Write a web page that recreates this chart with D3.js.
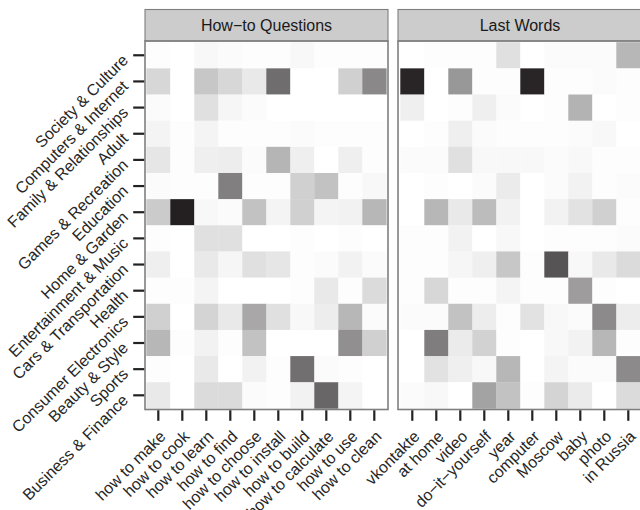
<!DOCTYPE html>
<html>
<head>
<meta charset="utf-8">
<script src="https://cdn.jsdelivr.net/npm/d3@7"></script>
<style>
  body { margin: 0; background: #fff; }
  text { font-family: "Liberation Sans", Arial, sans-serif; }
</style>
</head>
<body>
<svg id="chart" width="640" height="510"></svg>
<script>
// categories down the side (top to bottom)
var categories = ["Society & Culture", "Computers & Internet", "Family & Relationships", "Adult",
    "Games & Recreation", "Education", "Home & Garden", "Entertainment & Music",
    "Cars & Transportation", "Health", "Consumer Electronics", "Beauty & Style",
    "Sports", "Business & Finance"];

var panelTitles = ["How\u2212to Questions", "Last Words"];

var howtoTerms = ["how to make", "how to cook", "how to learn", "how to find", "how to choose",
    "how to install", "how to build", "how to calculate", "how to use", "how to clean"];

var lastTerms = ["vkontakte", "at home", "video", "do\u2212it\u2212yourself", "year",
    "computer", "Moscow", "baby", "photo", "in Russia"];

// shading, one row per category, 0 = white .. 100 = darkest
var howtoValues = [
    [1, 0, 3, 2, 1, 1, 3, 1, 1, 1],
    [18, 0, 25, 18, 10, 65, 0, 0, 21, 53],
    [2, 0, 14, 4, 2, 0, 0, 0, 0, 0],
    [5, 1, 5, 1, 1, 1, 2, 1, 1, 1],
    [11, 1, 7, 8, 2, 33, 7, 0, 7, 1],
    [2, 1, 1, 57, 1, 1, 21, 27, 1, 3],
    [23, 99, 3, 2, 27, 5, 21, 5, 6, 32],
    [1, 0, 14, 14, 0, 0, 1, 0, 1, 0],
    [7, 0, 10, 4, 14, 11, 1, 2, 6, 2],
    [1, 1, 5, 0, 0, 0, 1, 10, 1, 16],
    [21, 0, 19, 10, 39, 14, 3, 8, 32, 2],
    [32, 1, 6, 1, 27, 0, 0, 0, 50, 21],
    [1, 0, 10, 0, 6, 1, 64, 2, 1, 0],
    [10, 0, 16, 16, 2, 1, 6, 68, 5, 0]
];

var lastValues = [
    [0, 1, 1, 1, 14, 0, 2, 2, 2, 32],
    [97, 0, 46, 1, 1, 97, 1, 1, 2, 1],
    [7, 0, 1, 7, 2, 0, 1, 34, 0, 1],
    [0, 1, 7, 2, 1, 1, 1, 2, 3, 0],
    [2, 2, 14, 3, 3, 3, 2, 3, 1, 1],
    [0, 1, 0, 2, 9, 0, 2, 6, 1, 2],
    [0, 32, 10, 30, 6, 0, 6, 13, 21, 1],
    [1, 1, 6, 0, 3, 0, 1, 1, 1, 2],
    [1, 1, 4, 7, 25, 1, 76, 3, 10, 16],
    [1, 18, 1, 1, 5, 1, 1, 44, 1, 0],
    [2, 2, 27, 8, 1, 13, 3, 2, 52, 8],
    [0, 58, 9, 20, 1, 0, 3, 6, 32, 1],
    [0, 13, 7, 3, 32, 0, 5, 2, 2, 52],
    [2, 3, 0, 41, 27, 1, 19, 9, 0, 16]
];

var svg = d3.select("#chart");

var panelTop = 41, panelBottom = 409.5;
var stripTop = 9.5;
var fontSize = 16;

var color = d3.scaleLinear()
    .domain([0, 100])
    .range(["#ffffff", "#221e1f"]);

var y = d3.scaleBand()
    .domain(categories)
    .range([42.2, 408.4]);

// one panel per facet
var panels = [
    { title: panelTitles[0], terms: howtoTerms, values: howtoValues, left: 145, right: 388, cells: [146.3, 386.3] },
    { title: panelTitles[1], terms: lastTerms, values: lastValues, left: 398, right: 642, cells: [400.3, 640.3] }
];

panels.forEach(function(p, pi) {
    var x = d3.scaleBand()
        .domain(p.terms)
        .range(p.cells);

    var g = svg.append("g");

    // strip
    g.append("rect")
        .attr("x", p.left)
        .attr("y", stripTop)
        .attr("width", p.right - p.left)
        .attr("height", panelTop - stripTop)
        .attr("fill", "#cccccc")
        .attr("stroke", "#7f7f7f")
        .attr("stroke-width", 1.1);
    g.append("text")
        .attr("x", (p.left + p.right) / 2)
        .attr("y", (stripTop + panelTop) / 2)
        .attr("dy", "0.36em")
        .attr("text-anchor", "middle")
        .attr("font-size", fontSize)
        .attr("fill", "#1a1a1a")
        .text(p.title);

    // tiles
    var cells = [];
    p.values.forEach(function(row, ri) {
        row.forEach(function(v, ci) {
            cells.push({ cat: categories[ri], term: p.terms[ci], value: v });
        });
    });
    g.selectAll(".tile")
        .data(cells)
        .enter()
        .append("rect")
            .classed("tile", true)
            .attr("x", d => x(d.term))
            .attr("y", d => y(d.cat))
            .attr("width", x.bandwidth() + 0.3)
            .attr("height", y.bandwidth() + 0.3)
            .attr("fill", d => color(d.value));

    // panel border
    g.append("rect")
        .attr("x", p.left)
        .attr("y", panelTop)
        .attr("width", p.right - p.left)
        .attr("height", panelBottom - panelTop)
        .attr("fill", "none")
        .attr("stroke", "#7f7f7f")
        .attr("stroke-width", 1.6);

    // x axis, labels turned 45 degrees
    var xAxis = g.append("g")
        .attr("transform", `translate(0, ${panelBottom + 0.8})`)
        .call(d3.axisBottom(x).tickSize(10.5).tickSizeOuter(0));
    xAxis.select(".domain").remove();
    xAxis.selectAll(".tick line").attr("stroke", "#222").attr("stroke-width", 2.2);
    xAxis.selectAll(".tick text")
        .attr("font-size", fontSize)
        .attr("fill", "#262626")
        .attr("text-anchor", "end")
        .attr("x", 0)
        .attr("y", 0)
        .attr("dy", "0.72em")
        .attr("transform", "translate(0, 19) rotate(-45)");

    // y axis only on the first panel
    if (pi === 0) {
        var yAxis = g.append("g")
            .attr("transform", `translate(${p.left - 0.8}, 0)`)
            .call(d3.axisLeft(y).tickSize(11).tickSizeOuter(0));
        yAxis.select(".domain").remove();
        yAxis.selectAll(".tick line").attr("stroke", "#222").attr("stroke-width", 2.2);
        yAxis.selectAll(".tick text")
            .attr("font-size", fontSize)
            .attr("fill", "#262626")
            .attr("text-anchor", "end")
            .attr("x", 0)
            .attr("dy", "0.35em")
            .attr("transform", "translate(-19, 2) rotate(-45)");
    }
});
</script>
</body>
</html>
